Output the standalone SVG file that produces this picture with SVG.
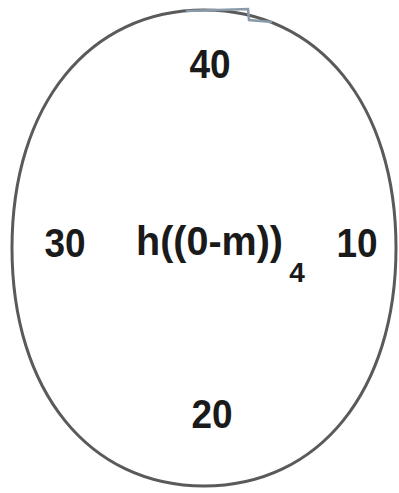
<svg xmlns="http://www.w3.org/2000/svg" width="399" height="493" viewBox="0 0 399 493">
  <style>
    .lbl { font-family: "Liberation Sans", Arial, sans-serif; font-weight: bold; fill: #1a1a1a; }
    .ring { fill: none; stroke: #5a5a5a; stroke-width: 3; }
  </style>
  <rect width="399" height="493" fill="#ffffff"/>
  <g id="ring">
    <path class="ring" d="M12,248 C12,105 89,10 204,10 C319,10 396,105 396,248 C396,391 319,486 204,486 C89,486 12,391 12,248Z"/>
    <path d="M186,11 L248,9 L249,20 L272,22" fill="none" stroke="#8a9aa8" stroke-width="2.5"/>
  </g>
  <g id="label-40"><text class="lbl" x="210" y="78" font-size="37" text-anchor="middle" transform="translate(0,78) scale(1,1.12) translate(0,-78)">40</text></g>
  <g id="label-30"><text class="lbl" x="65" y="257" font-size="37" text-anchor="middle" transform="translate(0,257) scale(1,1.12) translate(0,-257)">30</text></g>
  <g id="label-10"><text class="lbl" x="357" y="257" font-size="37" text-anchor="middle" transform="translate(0,257) scale(1,1.12) translate(0,-257)">10</text></g>
  <g id="label-20"><text class="lbl" x="212" y="428" font-size="37" text-anchor="middle" transform="translate(0,428) scale(1,1.12) translate(0,-428)">20</text></g>
  <g id="label-center"><text class="lbl" x="136" y="255" font-size="37" textLength="147" lengthAdjust="spacingAndGlyphs" transform="translate(0,255) scale(1,1.12) translate(0,-255)">h((0-m))</text><text class="lbl" x="297" y="282" font-size="28" text-anchor="middle">4</text></g>
</svg>
